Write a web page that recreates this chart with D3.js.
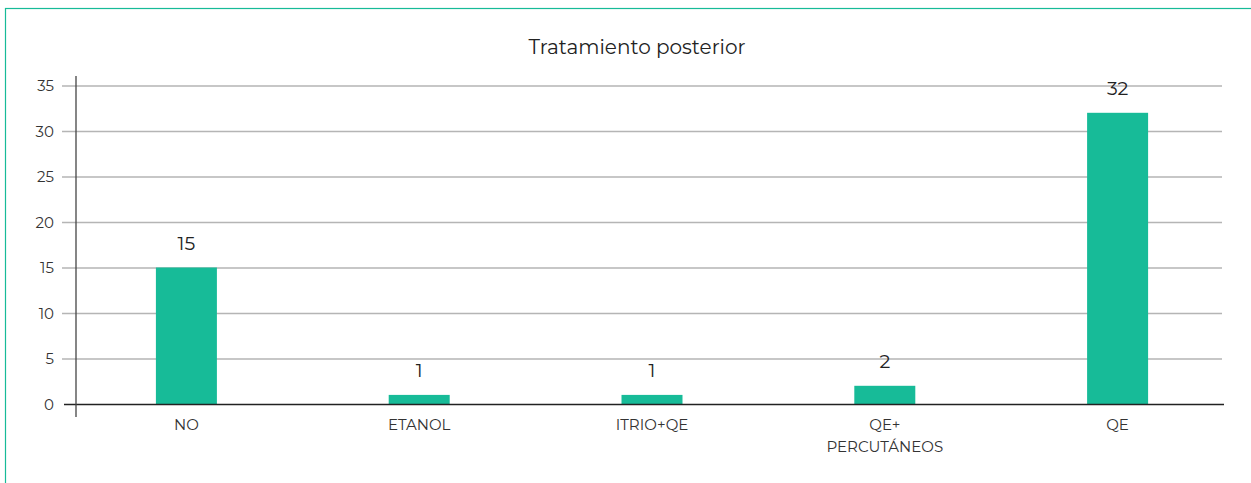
<!DOCTYPE html>
<html><head><meta charset="utf-8">
<script src="https://cdn.jsdelivr.net/npm/d3@7"></script>
<style>
html,body{margin:0;padding:0;background:#fff;}
svg{display:block;font-family:"Montserrat","Noto Sans",sans-serif;}
</style></head>
<body><svg id="c" width="1251" height="483"></svg>
<script>
const title = "Tratamiento posterior";
const categories = [["NO"],["ETANOL"],["ITRIO+QE"],["QE+","PERCUTÁNEOS"],["QE"]];
const values = [15, 1, 1, 2, 32];
const yTicks = [0,5,10,15,20,25,30,35];

const svg = d3.select("#c");
svg.append("rect").attr("x",5.5).attr("y",8.5).attr("width",1260).attr("height",500)
  .attr("fill","none").attr("stroke","#17BB98").attr("stroke-width",1.2);

svg.append("text").attr("x",637).attr("y",54).attr("text-anchor","middle")
  .attr("font-size",20).attr("fill","#222").text(title);

const y = d3.scaleLinear().domain([0,35]).range([404,85.5]);
const x = d3.scaleBand().domain(categories.map((d,i)=>i)).range([70,1234]).paddingInner(0.738).paddingOuter(0.369);

// gridlines
svg.append("g").selectAll("line").data(yTicks.filter(d=>d>0)).join("line")
  .attr("x1",62).attr("x2",1222).attr("y1",d=>y(d)+0.5).attr("y2",d=>y(d)+0.5)
  .attr("stroke","#b5b5b5").attr("stroke-width",1.3);

// y tick labels
svg.append("g").selectAll("text").data(yTicks).join("text")
  .attr("x",54).attr("y",d=>y(d)+5.5).attr("text-anchor","end")
  .attr("font-size",15).attr("fill","#333").text(d=>d);

// bars
svg.append("g").selectAll("rect").data(values).join("rect")
  .attr("x",(d,i)=>x(i)).attr("width",x.bandwidth())
  .attr("y",d=>y(d)).attr("height",d=>y(0)-y(d)).attr("fill","#17BB98");

// value labels
svg.append("g").selectAll("text").data(values).join("text")
  .attr("x",(d,i)=>x(i)+x.bandwidth()/2).attr("y",d=>y(d)-18)
  .attr("text-anchor","middle").attr("font-size",19).attr("fill","#222").text(d=>d);

// x axis baseline
svg.append("line").attr("x1",64).attr("x2",1224).attr("y1",404.5).attr("y2",404.5)
  .attr("stroke","#222").attr("stroke-width",1.3);
// y axis line
svg.append("line").attr("x1",76).attr("x2",76).attr("y1",76).attr("y2",417)
  .attr("stroke","#444").attr("stroke-width",1.3);

// category labels
const cl = svg.append("g").selectAll("text").data(categories).join("text")
  .attr("x",(d,i)=>x(i)+x.bandwidth()/2).attr("y",430)
  .attr("text-anchor","middle").attr("font-size",15).attr("fill","#333");
cl.selectAll("tspan").data(d=>d).join("tspan")
  .attr("x",function(){return this.parentNode.getAttribute("x");})
  .attr("dy",(d,j)=>j===0?0:22).text(d=>d);
</script></body></html>
